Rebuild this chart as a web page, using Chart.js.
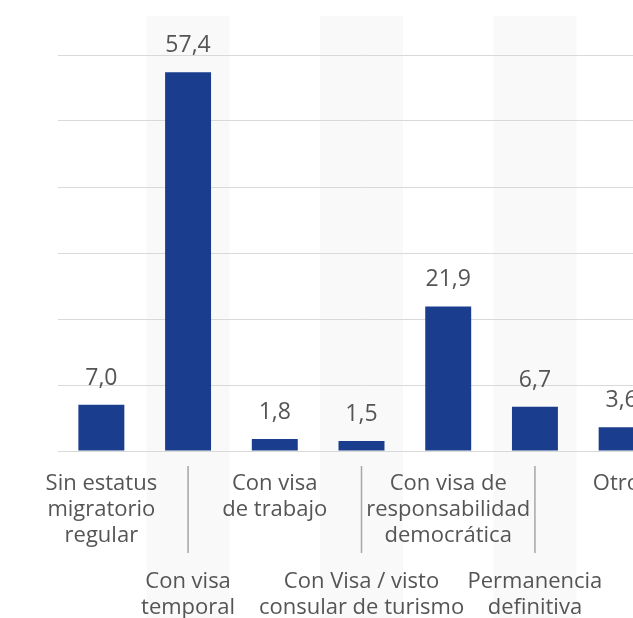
<!DOCTYPE html>
<html lang="es">
<head>
<meta charset="utf-8">
<title>Situación migratoria</title>
<script src="https://cdn.jsdelivr.net/npm/chart.js@4.4.1/dist/chart.umd.min.js"></script>
<style>
  html, body { margin: 0; padding: 0; background: #fff; overflow: hidden; }
  #chartContainer { width: 680px; height: 618px; }
</style>
</head>
<body>
<div id="chartContainer"><canvas id="myChart"></canvas></div>
<script>
// categorias (cada una en varias lineas) y valores en %
const categorias = [
  ["Sin estatus", "migratorio", "regular"],
  ["Con visa", "temporal"],
  ["Con visa", "de trabajo"],
  ["Con Visa / visto", "consular de turismo"],
  ["Con visa de", "responsabilidad", "democrática"],
  ["Permanencia", "definitiva"],
  ["Otros"]
];
const valores = [7.0, 57.4, 1.8, 1.5, 21.9, 6.7, 3.6];
const ejeY = { min: 0, max: 60, paso: 10 };

const colorBarra = "#1a3d8e";
const colorTexto = "#555555";
const fuente = "'Open Sans', sans-serif";

function formatoValor(v) {
  return v.toFixed(1).replace(".", ",");
}

// franjas grises detras de las categorias de abajo
const franjas = {
  id: "franjas",
  beforeDraw(chart) {
    const ctx = chart.ctx;
    const x = chart.scales.x;
    const ancho = x.width / categorias.length;
    ctx.save();
    ctx.fillStyle = "#f9f9f9";
    categorias.forEach((c, i) => {
      if (i % 2 === 1) {
        const cx = x.getPixelForValue(i);
        ctx.fillRect(cx - ancho * 0.48, 16, ancho * 0.96, chart.height - 16);
      }
    });
    ctx.restore();
  }
};

// etiquetas de valor y etiquetas de categoria escalonadas
const etiquetas = {
  id: "etiquetas",
  afterDraw(chart) {
    const ctx = chart.ctx;
    const x = chart.scales.x;
    const meta = chart.getDatasetMeta(0);
    const base = chart.chartArea.bottom;
    ctx.save();
    ctx.fillStyle = colorTexto;
    ctx.textAlign = "center";
    ctx.textBaseline = "alphabetic";

    ctx.font = "23px " + fuente;
    meta.data.forEach((bar, i) => {
      ctx.fillText(formatoValor(valores[i]), bar.x, bar.y - 20);
    });

    ctx.font = "22px " + fuente;
    categorias.forEach((lineas, i) => {
      const cx = x.getPixelForValue(i);
      const abajo = i % 2 === 1;
      const y0 = base + (abajo ? 137 : 39);
      lineas.forEach((l, j) => {
        ctx.fillText(l, cx, y0 + j * 26);
      });
      if (abajo) {
        ctx.strokeStyle = "#a6a6a6";
        ctx.lineWidth = 1.5;
        ctx.beginPath();
        ctx.moveTo(cx, base + 15);
        ctx.lineTo(cx, base + 102);
        ctx.stroke();
      }
    });
    ctx.restore();
  }
};

const config = {
  type: "bar",
  data: {
    labels: categorias.map(c => c.join(" ")),
    datasets: [
      {
        data: valores,
        backgroundColor: colorBarra,
        barPercentage: 0.53,
        categoryPercentage: 1
      }
    ]
  },
  options: {
    responsive: true,
    maintainAspectRatio: false,
    animation: false,
    layout: { padding: { left: 58, right: 15, top: 55, bottom: 167 } },
    plugins: {
      legend: { display: false },
      tooltip: { enabled: false }
    },
    scales: {
      x: {
        display: false
      },
      y: {
        min: ejeY.min,
        max: ejeY.max,
        ticks: { display: false, stepSize: ejeY.paso },
        border: { display: false },
        grid: { color: "#d9d9d9", lineWidth: 1, drawTicks: false }
      }
    }
  },
  plugins: [franjas, etiquetas]
};

const myChart = new Chart(document.getElementById("myChart"), config);
</script>
</body>
</html>
